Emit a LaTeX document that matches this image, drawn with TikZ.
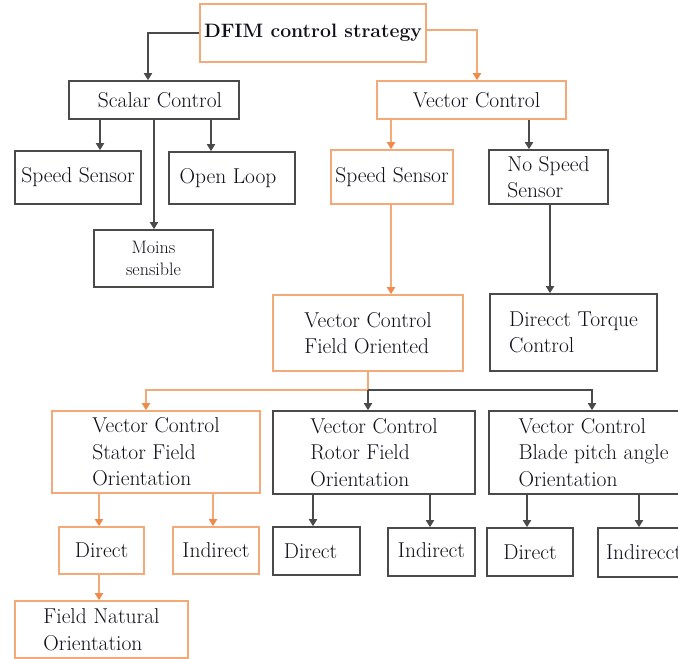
\documentclass[tikz,border=0pt]{standalone}
\usepackage{fontspec}
\usetikzlibrary{arrows.meta}
\definecolor{linegray}{HTML}{4A4A4A}
\definecolor{boxorange}{HTML}{F4AA78}
\definecolor{arrorange}{HTML}{EE8A4A}
\definecolor{ink}{HTML}{10101A}
\tikzset{
  every node/.style={font=\rmfamily\fontsize{21.5}{26.5}\selectfont, text=ink, inner sep=0pt, align=left},
  gbox/.style={draw=linegray, line width=1.6pt, fill=white},
  obox/.style={draw=boxorange, line width=1.6pt, fill=white},
  gline/.style={draw=linegray, line width=1.8pt},
  oline/.style={draw=boxorange, line width=1.8pt},
  garr/.style={gline, -{Triangle[width=8pt,length=7pt]}},
  oarr/.style={oline, -{Triangle[width=8pt,length=7pt,color=arrorange]}},
  sz/.style 2 args={minimum width=#1pt, minimum height=#2pt},
}
\begin{document}
\begin{tikzpicture}[x=1pt,y=-1pt]
\useasboundingbox (0,0) rectangle (678,659);
\clip (0,0) rectangle (678,659);

% top level
\node[obox, sz={226}{58}, font=\rmfamily\bfseries\fontsize{19.4}{24}\selectfont] (dfim) at (313,33) {DFIM control strategy};

% scalar branch
\node[gbox, sz={170}{38}] (sc) at (154,100) {\hspace*{12pt}Scalar Control};
\node[gbox, sz={126}{53}] (ss1) at (78,177.5) {Speed Sensor};
\node[gbox, sz={126}{52}] (ol) at (232,178) {\raisebox{-4pt}{Open Loop}\hspace*{8pt}};
\node[gbox, sz={119}{57}, align=center, font=\rmfamily\fontsize{18}{21.5}\selectfont] (moins) at (153.5,258.5) {Moins\\sensible};

% vector branch
\node[obox, sz={189}{38}] (vc) at (471.5,100) {\hspace*{10pt}Vector Control};
\node[obox, sz={122}{54}] (ss2) at (392,177) {Speed Sensor};
\node[gbox, sz={119}{54}] (nss) at (548.5,177) {No Speed\\Sensor};
\node[obox, sz={190}{76}] (fo) at (368,333) {Vector Control\\Field Oriented};
\node[gbox, sz={167}{77}] (dtc) at (573.5,332.5) {Direcct Torque\\Control};

% field orientation variants
\node[obox, sz={208}{82}] (sfo) at (156,452) {Vector Control\\Stator Field\\Orientation};
\node[gbox, sz={202}{83}] (rfo) at (374,452.5) {Vector Control\\Rotor Field\\Orientation};
\node[gbox, sz={209}{83}] (bpo) at (593.5,452.5) {Vector Control\\Blade pitch angle\\Orientation};

% direct / indirect leaves
\node[obox, sz={85}{47}] (d1) at (101.5,550.5) {Direct};
\node[obox, sz={86}{47}] (i1) at (216,550.5) {\raisebox{-3pt}{Indirect}};
\node[obox, sz={173}{57}] (fno) at (101.5,629.5) {Field Natural\\Orientation};
\node[gbox, sz={87}{48}] (d2) at (316.5,551) {Direct\hspace*{12pt}};
\node[gbox, sz={87}{48}] (i2) at (431.5,552) {\raisebox{3pt}{Indirect}};
\node[gbox, sz={86}{48}] (d3) at (530,552) {Direct};
\node[gbox, sz={88}{49}] (i3) at (642,552.5) {\hspace*{4pt}Indirecct};

% connectors from the root
\draw[garr] (dfim.west) -| (sc.north -| 148,0);
\draw[oarr] (dfim.east |- 0,30) -| (vc.north -| 477,0);

% scalar control children
\draw[garr] (sc.south -| 100,0) -- (ss1.north -| 100,0);
\draw[garr] (sc.south -| 211,0) -- (ol.north -| 211,0);
\draw[garr] (sc.south) -- (moins.north -| sc.south);

% vector control children
\draw[oarr] (vc.south -| 391,0) -- (ss2.north -| 391,0);
\draw[garr] (vc.south -| 529,0) -- (nss.north -| 529,0);
\draw[oarr] (ss2.south -| 391,0) -- (fo.north -| 391,0);
\draw[garr] (nss.south -| 550,0) -- (dtc.north -| 550,0);

% field oriented bus
\draw[oline] (fo.south) -- (fo.south |- 0,390) coordinate (bus);
\draw[oarr] (bus) -| (sfo.north -| 146,0);
\draw[garr] (bus) -- (rfo.north -| bus);
\draw[garr] (bus) -| (bpo.north -| 592,0);

% stator field orientation children
\draw[oarr] (sfo.south -| 99,0) -- (d1.north -| 99,0);
\draw[oarr] (sfo.south -| 213,0) -- (i1.north -| 213,0);
\draw[oarr] (d1.south -| 99,0) -- (fno.north -| 99,0);

% rotor field orientation children
\draw[garr] (rfo.south -| 313,0) -- (d2.north -| 313,0);
\draw[garr] (rfo.south -| 430,0) -- (i2.north -| 430,0);

% blade pitch orientation children
\draw[garr] (bpo.south -| 527,0) -- (d3.north -| 527,0);
\draw[garr] (bpo.south -| 639,0) -- (i3.north -| 639,0);
\end{tikzpicture}
\end{document}
